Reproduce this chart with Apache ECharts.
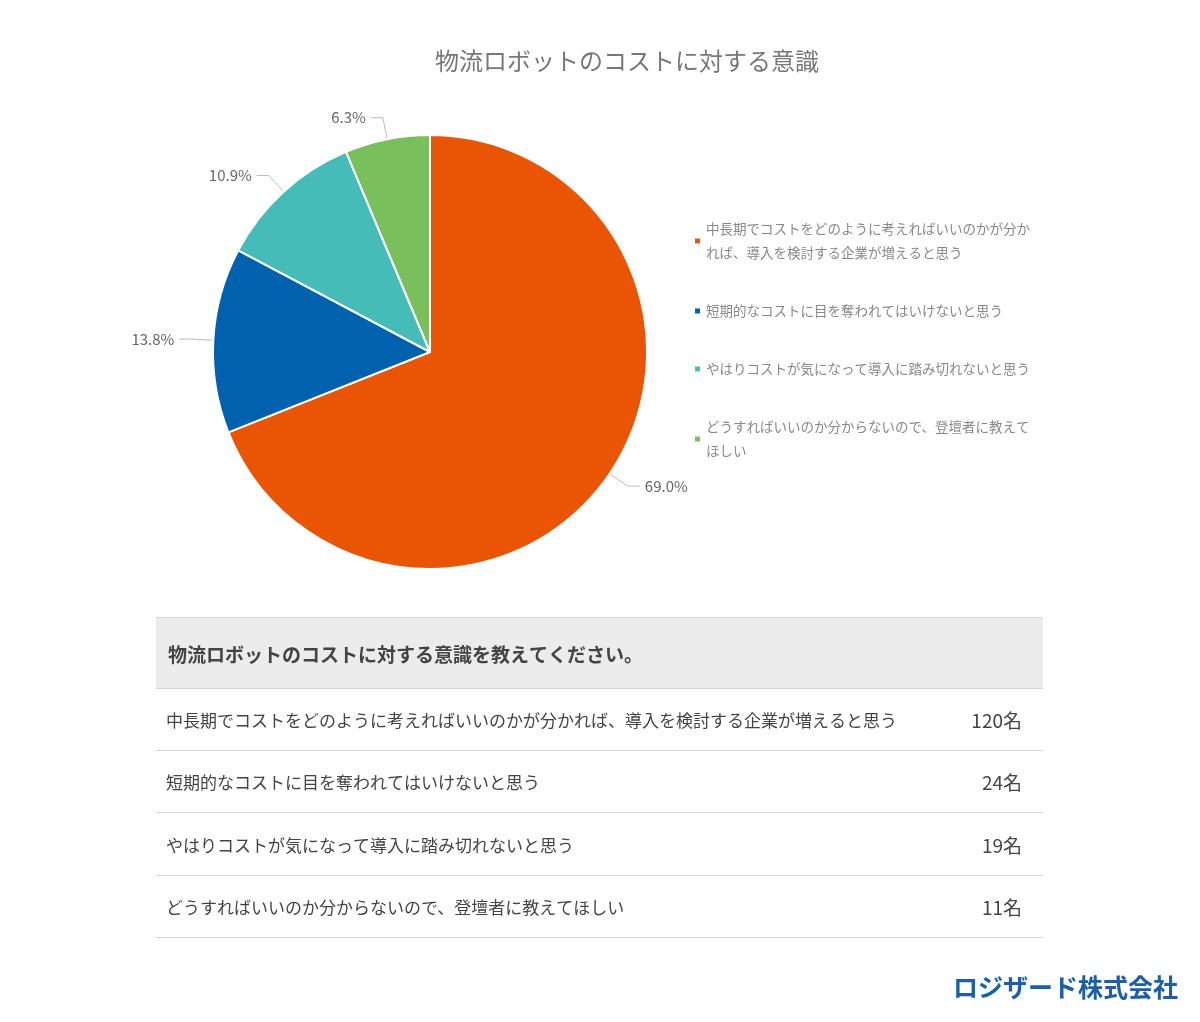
<!DOCTYPE html>
<html><head><meta charset="utf-8">
<script src="https://cdn.jsdelivr.net/npm/echarts@6/dist/echarts.min.js"></script>
<style>html,body{margin:0;padding:0;background:#fff}#c{width:1200px;height:1022px}</style>
</head><body><div id="c"></div>
<script>
const title = '物流ロボットのコストに対する意識';
const categories = [
  '中長期でコストをどのように考えればいいのかが分かれば、導入を検討する企業が増えると思う',
  '短期的なコストに目を奪われてはいけないと思う',
  'やはりコストが気になって導入に踏み切れないと思う',
  'どうすればいいのか分からないので、登壇者に教えてほしい'
];
const legendLabels = [
  '中長期でコストをどのように考えればいいのかが分か\nれば、導入を検討する企業が増えると思う',
  '短期的なコストに目を奪われてはいけないと思う',
  'やはりコストが気になって導入に踏み切れないと思う',
  'どうすればいいのか分からないので、登壇者に教えて\nほしい'
];
const counts = [120, 24, 19, 11];
const colors = ['#e95504', '#0061ae', '#45bcb8', '#79bf5c'];
const tableTitle = '物流ロボットのコストに対する意識を教えてください。';
const unit = '名';

const font = '"Noto Sans CJK JP", sans-serif';
const graphic = [];
const L = 156, R = 1043;
graphic.push({type:'rect', shape:{x:L, y:617, width:R-L, height:71}, style:{fill:'#ececec'}});
graphic.push({type:'rect', shape:{x:L, y:617, width:R-L, height:1}, style:{fill:'#d8d8d8'}});
graphic.push({type:'text', x:168, y:655, style:{text:tableTitle, font:'bold 19px '+font, fill:'#444', verticalAlign:'middle'}});
const rowTop = [688, 750, 812, 875, 937];
categories.forEach((c, i) => {
  const cy = (rowTop[i] + rowTop[i+1]) / 2 + 2;
  graphic.push({type:'text', x:166, y:cy, style:{text:c, font:'17px '+font, fill:'#444', verticalAlign:'middle'}});
  graphic.push({type:'text', x:1022, y:cy, style:{text:counts[i] + unit, font:'19px '+font, fill:'#444', align:'right', verticalAlign:'middle'}});
});
rowTop.forEach(y => graphic.push({type:'rect', shape:{x:L, y:y, width:R-L, height:1}, style:{fill:'#d4d4d4'}}));
graphic.push({type:'text', x:1178, y:987, style:{text:'ロジザード株式会社', font:'bold 25px '+font, fill:'#1a5fa8', align:'right', verticalAlign:'middle'}});

const chart = echarts.init(document.getElementById('c'));
chart.setOption({
  animation:false,
  color: colors,
  title:{text:title, left:622, top:44, textAlign:'center', textStyle:{fontFamily:font, fontSize:24, fontWeight:'normal', color:'#777'}},
  legend:{orient:'vertical', left:688, top:212, itemWidth:7, itemHeight:7, itemGap:34, icon:'rect',
    formatter: n => legendLabels[categories.indexOf(n)],
    textStyle:{fontFamily:font, fontSize:13.5, color:'#888', lineHeight:24}},
  graphic: graphic,
  series:[{type:'pie', center:[430,352], radius:[0,217], startAngle:90, clockwise:true,
    itemStyle:{borderColor:'#fff', borderWidth:2},
    label:{formatter: p => p.percent.toFixed(1) + '%', fontFamily:font, fontSize:15, color:'#666'},
    labelLine:{length:22, length2:12, lineStyle:{color:'#bbb'}},
    percentPrecision:1,
    data: categories.map((c,i)=>({name:c, value:counts[i]}))
  }]
});
</script></body></html>
